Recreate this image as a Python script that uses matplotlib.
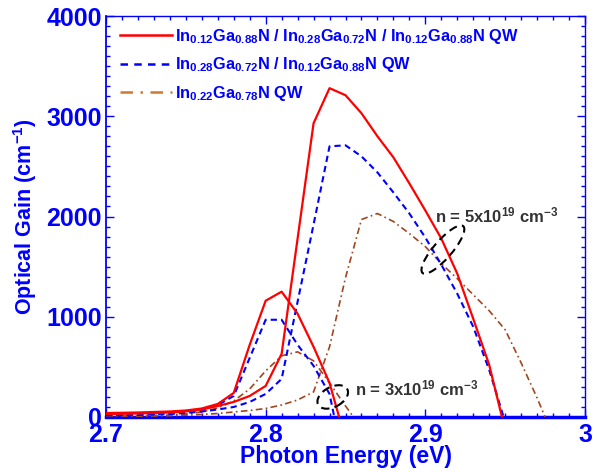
import matplotlib
matplotlib.use("Agg")
import matplotlib.pyplot as plt
from matplotlib.lines import Line2D
from matplotlib.patches import Ellipse
from matplotlib.transforms import ScaledTranslation
from matplotlib.ticker import MultipleLocator

plt.rcParams['font.family'] = ['Liberation Sans', 'DejaVu Sans']
plt.rcParams['font.weight'] = 'bold'
plt.rcParams['mathtext.fontset'] = 'custom'
plt.rcParams['mathtext.rm'] = 'Liberation Sans:bold'
plt.rcParams['mathtext.bf'] = 'Liberation Sans:bold'
plt.rcParams['mathtext.it'] = 'Liberation Sans:bold'
plt.rcParams['mathtext.sf'] = 'Liberation Sans:bold'
plt.rcParams['mathtext.default'] = 'rm'

# ---- data ----
grid = [2.70, 2.71, 2.72, 2.73, 2.74, 2.75, 2.76, 2.77, 2.78, 2.79, 2.80,
        2.81, 2.82, 2.83, 2.84, 2.85, 2.86, 2.87, 2.88, 2.89, 2.90, 2.91,
        2.92, 2.93, 2.94, 2.95, 2.96, 2.97]

# step QW (red), n = 3e19
red_low_x = grid[:15] + [2.846]
red_low_y = [40, 42, 45, 50, 55, 65, 85, 130, 240, 720, 1160, 1250, 1030, 700, 340, 0]
# step QW (red), n = 5e19
red_high_x = grid[:25] + [2.948]
red_high_y = [30, 32, 35, 40, 45, 55, 75, 110, 150, 210, 310, 630, 1780, 2930, 3280,
              3210, 3030, 2800, 2590, 2330, 2060, 1780, 1430, 980, 520, 0]
# two-layer QW (blue), n = 3e19
blue_low_x = grid[:15] + [2.843]
blue_low_y = [20, 22, 25, 30, 35, 45, 70, 120, 210, 590, 970, 970, 720, 510, 230, 0]
# two-layer QW (blue), n = 5e19
blue_high_x = grid[:25] + [2.949]
blue_high_y = [15, 17, 20, 25, 30, 40, 55, 75, 100, 150, 230, 380, 1150, 1920, 2700,
               2710, 2600, 2440, 2240, 2030, 1790, 1520, 1230, 900, 470, 0]
# conventional QW (brown), n = 3e19
brown_low_x = grid[:16] + [2.855]
brown_low_y = [8, 10, 12, 15, 20, 30, 50, 90, 160, 280, 460, 610, 650, 560, 340, 110, 0]
# conventional QW (brown), n = 5e19
brown_high_x = grid + [2.975]
brown_high_y = [5, 6, 8, 10, 13, 18, 25, 35, 50, 65, 85, 120, 170, 250, 700, 1390,
                1970, 2030, 1950, 1830, 1700, 1530, 1380, 1220, 1060, 870, 540, 190, 0]

labels = [r"In$_{0.12}$Ga$_{0.88}$N / In$_{0.28}$Ga$_{0.72}$N / In$_{0.12}$Ga$_{0.88}$N QW",
          r"In$_{0.28}$Ga$_{0.72}$N / In$_{0.12}$Ga$_{0.88}$N QW",
          r"In$_{0.22}$Ga$_{0.78}$N QW"]
xticks = [2.7, 2.8, 2.9, 3.0]
xticklabels = ["2.7", "2.8", "2.9", "3"]
yticks = [0, 1000, 2000, 3000, 4000]

# ---- styles ----
RED = "#FF0000"
BLUE = "#0000FF"
BROWN = "#A0461E"
BROWN_LEG = "#CC7A30"
AX_BLUE = "#0000FF"

fig = plt.figure(figsize=(5.97, 4.72), dpi=100)
ax = fig.add_axes([106/597, 1 - 417/472, (585-106)/597, (417-16)/472])

ax.plot(red_high_x, red_high_y, color=RED, lw=1.6, zorder=5)
ax.plot(red_low_x, red_low_y, color=RED, lw=1.6, zorder=5)
ax.plot(blue_high_x, blue_high_y, color=BLUE, lw=1.5, dashes=(3, 2), zorder=4)
ax.plot(blue_low_x, blue_low_y, color=BLUE, lw=1.5, dashes=(3, 2), zorder=4)
ax.plot(brown_high_x, brown_high_y, color=BROWN, lw=1.2, dashes=(4, 2, 1, 2), zorder=3)
ax.plot(brown_low_x, brown_low_y, color=BROWN, lw=1.2, dashes=(4, 2, 1, 2), zorder=3)

ax.set_xlim(2.7, 3.0)
ax.set_ylim(0, 4000)
ax.set_xticks(xticks)
ax.set_xticklabels(xticklabels)
ax.set_yticks(yticks)
ax.xaxis.set_minor_locator(MultipleLocator(0.01))
ax.yaxis.set_minor_locator(MultipleLocator(100))
ax.tick_params(which='both', direction='in', top=True, right=True, colors=AX_BLUE,
               labelcolor=AX_BLUE)
ax.tick_params(which='major', length=6, width=1, labelsize=18, pad=3)
ax.tick_params(axis='x', which='major', pad=4)
ax.tick_params(which='minor', length=3, width=1)
for lab in ax.get_xticklabels() + ax.get_yticklabels():
    lab.set_fontweight('bold')

for s in ax.spines.values():
    s.set_color(AX_BLUE)
    s.set_linewidth(1.0)
ax.spines['bottom'].set_linewidth(2.5)
ax.spines['left'].set_linewidth(1.3)

ax.set_xlabel("Photon Energy (eV)", color=AX_BLUE, fontsize=16.5, fontweight='bold', labelpad=-1)
ax.set_ylabel(r"Optical Gain (cm$^{-1}$)", color=AX_BLUE, fontsize=15.5, fontweight='bold', labelpad=5)

handles = [Line2D([], [], color=RED, lw=1.8),
           Line2D([], [], color=BLUE, lw=1.8, dashes=(3, 2.5)),
           Line2D([], [], color=BROWN_LEG, lw=1.8, dashes=(5, 3, 1, 3))]
leg = ax.legend(handles, labels, loc='upper left', bbox_to_anchor=(0.015, 0.99),
                frameon=False, handlelength=3.2, handletextpad=0.2, labelspacing=0.6,
                prop={'weight': 'bold', 'size': 11.8}, labelcolor=AX_BLUE, borderaxespad=0)

# annotations
ax.text(2.906, 2010, r"n = 5x10$^{19}$ cm$^{-3}$", color="#333333", fontsize=12,
        fontweight='bold', va='center', ha='left', zorder=6)
ax.text(2.856, 285, r"n = 3x10$^{19}$ cm$^{-3}$", color="#333333", fontsize=12,
        fontweight='bold', va='center', ha='left', zorder=6)

def add_ellipse(x, y, w_px, h_px, angle):
    tr = fig.dpi_scale_trans + ScaledTranslation(x, y, ax.transData)
    e = Ellipse((0, 0), w_px/100, h_px/100, angle=angle, fill=False, edgecolor='black',
                lw=1.5, linestyle=(0, (4, 2.5)), transform=tr, zorder=7, clip_on=False)
    ax.add_patch(e)

add_ellipse(2.911, 1670, 62, 18, 49)
add_ellipse(2.842, 200, 33, 20, 28)

fig.savefig("out.png", dpi=100)
